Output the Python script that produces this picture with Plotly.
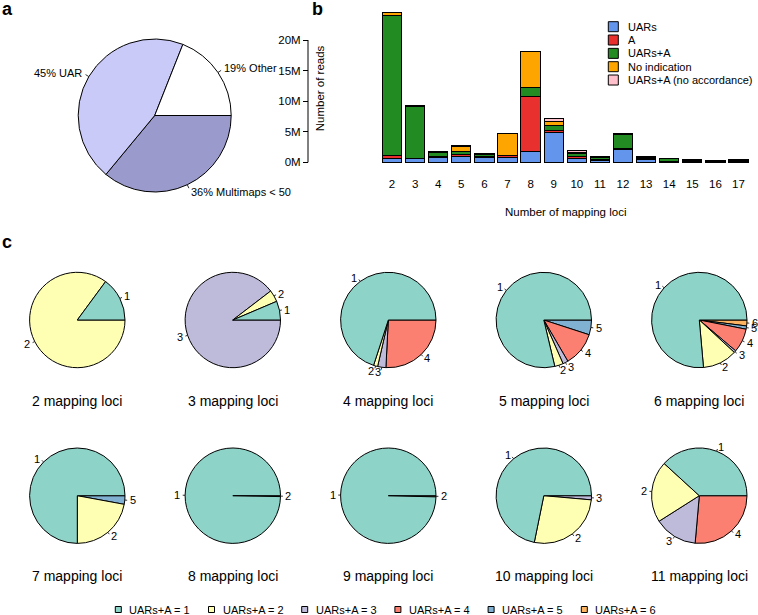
import math
import plotly.graph_objects as go

W, H = 758, 615
FONT = "Liberation Sans, Arial, sans-serif"

# ---------------- Panel a data ----------------
a_labels = ["19% Other", "45% UAR", "36% Multimaps < 50"]
a_values = [19, 45, 36]
a_colors = ["#FFFFFF", "#CACAF8", "#9A9ACC"]

# ---------------- Panel b data (millions of reads) ----------------
loci = ["2", "3", "4", "5", "6", "7", "8", "9", "10", "11", "12", "13", "14", "15", "16", "17"]
uars = [0.65, 0.60, 0.82, 0.93, 0.80, 0.82, 1.74, 4.90, 0.65, 0.35, 2.10, 0.50, 0.10, 0.10, 0.06, 0.10]
a_only = [0.50, 0.05, 0.15, 0.27, 0.10, 0.25, 9.10, 0.25, 0.25, 0.15, 0.15, 0.10, 0.03, 0.10, 0.06, 0.20]
uars_a = [22.90, 8.40, 0.60, 0.55, 0.40, 0.05, 1.36, 0.80, 0.55, 0.30, 2.30, 0.25, 0.50, 0.12, 0.08, 0.10]
no_ind = [0.45, 0.15, 0.10, 0.90, 0.15, 3.60, 6.00, 0.70, 0.15, 0.10, 0.15, 0.05, 0.05, 0.05, 0.05, 0.05]
no_acc = [0.00, 0.05, 0.07, 0.02, 0.00, 0.03, 0.00, 0.45, 0.30, 0.05, 0.04, 0.03, 0.02, 0.01, 0.00, 0.03]
b_series = ["UARs", "A", "UARs+A", "No indication", "UARs+A (no accordance)"]
b_colors = ["#6495ED", "#E8302F", "#228B22", "#FFA500", "#FFC0CB"]
b_ticks = [0, 5, 10, 15, 20]
b_ticktext = ["0M", "5M", "10M", "15M", "20M"]

# ---------------- Panel c data ----------------
c_titles = ["2 mapping loci", "3 mapping loci", "4 mapping loci", "5 mapping loci", "6 mapping loci",
            "7 mapping loci", "8 mapping loci", "9 mapping loci", "10 mapping loci", "11 mapping loci"]
c_cats = [[1, 2], [1, 2, 3], [1, 2, 3, 4], [1, 2, 3, 4, 5], [1, 2, 3, 4, 5, 6],
          [1, 2, 5], [1, 2], [1, 2], [1, 2, 3], [1, 2, 3, 4]]
c_fracs = [
    [0.149, 0.851],
    [0.064, 0.040, 0.896],
    [0.700, 0.014, 0.028, 0.258],
    [0.787, 0.029, 0.018, 0.116, 0.050],
    [0.764, 0.117, 0.007, 0.081, 0.011, 0.020],
    [0.750, 0.221, 0.029],
    [0.997, 0.003],
    [0.996, 0.004],
    [0.718, 0.268, 0.014],
    [0.382, 0.208, 0.146, 0.264],
]
c_legend = ["UARs+A = 1", "UARs+A = 2", "UARs+A = 3", "UARs+A = 4", "UARs+A = 5", "UARs+A = 6"]
c_colors = ["#8DD3C7", "#FFFFB3", "#BEBADA", "#FB8072", "#80B1D3", "#FDB462"]

fig = go.Figure()
shapes = []
annotations = []


def px(x):
    return x / W


def py(y):
    return 1 - y / H


def text(x, y, s, size=11, xanchor="center", yanchor="middle", bold=False, angle=0):
    annotations.append(dict(
        x=px(x), y=py(y), xref="paper", yref="paper", text=("<b>%s</b>" % s) if bold else s,
        showarrow=False, xanchor=xanchor, yanchor=yanchor, textangle=angle,
        font=dict(family=FONT, size=size, color="black"), borderpad=0, borderwidth=0))


def add_pie(cx, cy, r, labels, values, colors, label_texts, label_size):
    # R pie: counter-clockwise from 3 o'clock -> reversed order, clockwise from 90 deg
    fig.add_trace(go.Pie(
        labels=labels[::-1], values=values[::-1], sort=False, direction="clockwise", rotation=90,
        marker=dict(colors=colors[::-1], line=dict(color="black", width=1)),
        textinfo="none", showlegend=False, hoverinfo="label+percent",
        domain=dict(x=[px(cx - r), px(cx + r)], y=[py(cy + r), py(cy - r)])))
    total = float(sum(values))
    cum = 0.0
    for lt, v in zip(label_texts, values):
        mid = (cum + v / 2.0) / total * 2 * math.pi
        cum += v
        c, s = math.cos(mid), math.sin(mid)
        shapes.append(dict(type="line", xref="paper", yref="paper",
                           x0=px(cx + r * c), y0=py(cy - r * s),
                           x1=px(cx + 1.05 * r * c), y1=py(cy - 1.05 * r * s),
                           line=dict(color="black", width=0.8)))
        text(cx + 1.1 * r * c, cy - 1.1 * r * s, lt, size=label_size,
             xanchor="left" if c >= 0 else "right")


# ---------------- Panel a ----------------
add_pie(154.7, 115.5, 76.5, ["Other", "UAR", "Multimaps"], a_values, a_colors, a_labels, 11)
text(7, 9, "a", size=18, bold=True)

# ---------------- Panel b ----------------
for name, vals, col in zip(b_series, [uars, a_only, uars_a, no_ind, no_acc], b_colors):
    fig.add_trace(go.Bar(x=loci, y=vals, name=name, marker=dict(color=col, line=dict(color="black", width=1)),
                         showlegend=False, xaxis="x", yaxis="y"))

fig.update_layout(
    barmode="stack", bargap=0.2 / 1.2,
    xaxis=dict(domain=[px(380.45), px(750.05)], range=[-0.5, 15.5], type="category",
               showgrid=False, zeroline=False, showline=False, ticks="", anchor="y",
               tickfont=dict(family=FONT, size=11.5, color="black")),
    yaxis=dict(domain=[py(175), py(10)], range=[(162.3 - 175) / 6.115, (162.3 - 10) / 6.115],
               tickvals=b_ticks, ticktext=b_ticktext, ticks="outside", ticklen=5, tickwidth=1,
               tickcolor="black", showgrid=False, zeroline=False, showline=False,
               anchor="free", position=px(308),
               tickfont=dict(family=FONT, size=11.5, color="black")),
)
shapes.append(dict(type="line", xref="paper", yref="y", x0=px(308), x1=px(308), y0=b_ticks[0], y1=b_ticks[-1],
                   line=dict(color="black", width=1)))
text(320, 88.3, "Number of reads", size=11.5, angle=-90)
text(565, 211.7, "Number of mapping loci", size=11.5)
text(317, 9, "b", size=18, bold=True)

for i, (name, col) in enumerate(zip(b_series, b_colors)):
    yc = 26.7 + 13.33 * i
    shapes.append(dict(type="rect", xref="paper", yref="paper", x0=px(608.3), x1=px(618.3),
                       y0=py(yc + 5), y1=py(yc - 5), fillcolor=col, line=dict(color="black", width=1)))
    text(628.3, yc, name, size=11, xanchor="left")

# ---------------- Panel c ----------------
cxs = [77.3, 232.8, 388.3, 543.8, 699.3]
cys = [320.0, 495.7]
title_ys = [400.7, 575.7]
for k in range(10):
    row, col = divmod(k, 5)
    cats = c_cats[k]
    add_pie(cxs[col], cys[row], 47.7, [str(c) for c in cats], c_fracs[k],
            [c_colors[c - 1] for c in cats], [str(c) for c in cats], 11)
    text(cxs[col], title_ys[row], c_titles[k], size=14)
text(7, 242, "c", size=18, bold=True)

for i, (lab, col) in enumerate(zip(c_legend, c_colors)):
    xc = 118.3 + 93.2 * i
    yc = 609.5
    shapes.append(dict(type="rect", xref="paper", yref="paper", x0=px(xc - 3), x1=px(xc + 3),
                       y0=py(yc + 3), y1=py(yc - 3), fillcolor=col, line=dict(color="black", width=1)))
    text(xc + 11, yc, lab, size=11, xanchor="left")

fig.update_layout(
    width=W, height=H, margin=dict(l=0, r=0, t=0, b=0),
    paper_bgcolor="white", plot_bgcolor="white",
    font=dict(family=FONT, color="black"),
    shapes=shapes, annotations=annotations,
)
fig.write_html("out.html", config={"displayModeBar": False},
               post_script="document.body.style.margin='0';document.body.style.overflow='hidden';")
